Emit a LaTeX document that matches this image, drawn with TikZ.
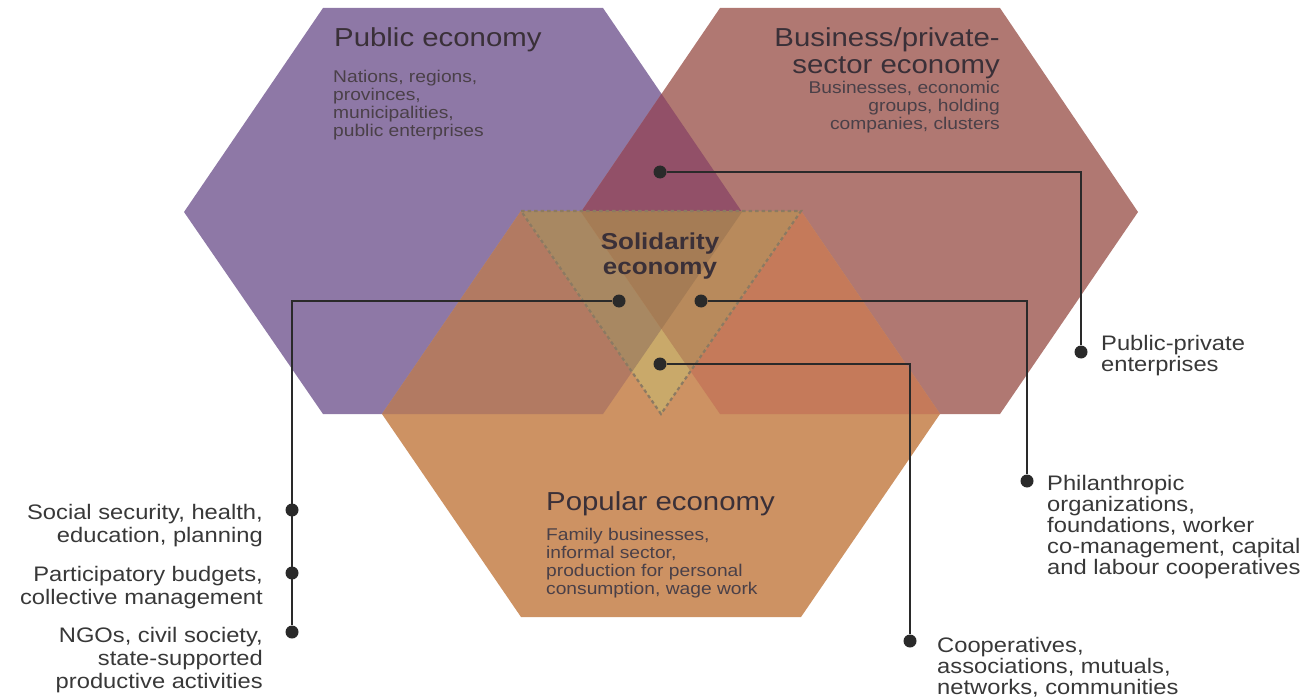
\documentclass[tikz,border=0pt]{standalone}
\usepackage{fontspec}
\setmainfont{Liberation Sans}[FakeStretch=1.13]
\definecolor{pubc}{HTML}{8E78A6}
\definecolor{busc}{HTML}{B07872}
\definecolor{pbc}{HTML}{925068}
\definecolor{popc}{HTML}{CD9263}
\definecolor{poppubc}{HTML}{B27A62}
\definecolor{popbusc}{HTML}{C57A5A}
\definecolor{tripc}{HTML}{C9A96A}
\definecolor{tripubc}{HTML}{A88862}
\definecolor{tribusc}{HTML}{B88A5C}
\definecolor{triallc}{HTML}{A57C55}
\definecolor{dashc}{HTML}{8C7A62}
\definecolor{linec}{HTML}{2A2A2A}
\definecolor{labc}{HTML}{383838}
\definecolor{titc}{HTML}{3A3038}
\definecolor{smallc}{HTML}{4A4048}
\begin{document}
\begin{tikzpicture}[x=1pt,y=-1pt,
  dot/.style={circle,fill=linec,inner sep=0pt,minimum size=13pt},
  conn/.style={draw=linec,line width=1.8pt},
  lab/.style={font=\fontsize{21}{23}\selectfont,text=labc,inner sep=0pt},
  labr/.style={font=\fontsize{21}{21}\selectfont,text=labc,inner sep=0pt,anchor=north west,align=left},
  labl/.style={lab,anchor=north east,align=right},
  title/.style={font=\fontsize{26}{27}\selectfont,text=titc,inner sep=0pt},
  small/.style={font=\fontsize{17}{18}\selectfont,text=smallc,inner sep=0pt}]
\useasboundingbox (0,0) rectangle (1312,698);
\def\pubhex{(184,212) -- (323,8) -- (603,8) -- (742,212) -- (603,414) -- (323,414) -- cycle}
\def\bushex{(581,212) -- (720,8) -- (1000,8) -- (1138,212) -- (1000,414) -- (720,414) -- cycle}
\def\pophex{(382,414) -- (521,211) -- (801,211) -- (940,414) -- (801,617) -- (521,617) -- cycle}
\def\tri{(521,211) -- (801,211) -- (661,414) -- cycle}
% hexagons
\fill[pubc] \pubhex;
\fill[busc] \bushex;
\begin{scope}\clip \pubhex; \fill[pbc] \bushex; \end{scope}
\fill[popc] \pophex;
\begin{scope}\clip \pophex; \fill[poppubc] \pubhex; \end{scope}
\begin{scope}\clip \pophex; \fill[popbusc] \bushex; \end{scope}
% solidarity triangle
\fill[tripc] \tri;
\begin{scope}\clip \tri; \fill[tripubc] \pubhex; \end{scope}
\begin{scope}\clip \tri; \fill[tribusc] \bushex; \end{scope}
\begin{scope}\clip \tri; \clip \pubhex; \fill[triallc] \bushex; \end{scope}
\draw[dashc,line width=2.2pt,dash pattern=on 3.5pt off 3pt] \tri;
% titles
\node[title,anchor=north west] (tpub) at (334,27) {Public economy};
\node[small,anchor=north west,align=left] (spub) at (333,70) {Nations, regions,\\provinces,\\municipalities,\\public enterprises};
\node[title,anchor=north east,align=right] (tbus) at (1000,27) {Business/private-\\sector economy};
\node[small,anchor=north east,align=right] (sbus) at (1000,81) {Businesses, economic\\groups, holding\\companies, clusters};
\node[title,anchor=north west] (tpop) at (546,491) {Popular economy};
\node[small,anchor=north west,align=left] (spop) at (546,528) {Family businesses,\\informal sector,\\production for personal\\consumption, wage work};
\node[font=\bfseries\fontsize{23}{25}\selectfont,text=titc,inner sep=0pt,align=center] (tsol) at (660,256) {Solidarity\\economy};
% dots
\node[dot] (dA) at (660,172) {};
\node[dot] (dB) at (619,301) {};
\node[dot] (dC) at (701,301) {};
\node[dot] (dD) at (660,364) {};
\node[dot] (dPP) at (1081,352) {};
\node[dot] (dSoc) at (292,510) {};
\node[dot] (dPart) at (292,573) {};
\node[dot] (dNGO) at (292,632) {};
\node[dot] (dPhil) at (1027,481) {};
\node[dot] (dCoop) at (910,641) {};
% connectors
\draw[conn] (dA) -| (dPP);
\draw[conn] (dB) -| (dNGO);
\draw[conn] (dC) -| (dPhil);
\draw[conn] (dD) -| (dCoop);
% labels
\node[labl] (lSoc) at (263,504) {Social security, health,\\education, planning};
\node[labl] (lPart) at (263,566) {Participatory budgets,\\collective management};
\node[labl] (lNGO) at (263,627) {NGOs, civil society,\\state-supported\\productive activities};
\node[labr] (lPP) at (1101,335) {Public-private\\enterprises};
\node[labr] (lPhil) at (1047,475) {Philanthropic\\organizations,\\foundations, worker\\co-management, capital\\and labour cooperatives};
\node[labr] (lCoop) at (937,637) {Cooperatives,\\associations, mutuals,\\networks, communities};
\end{tikzpicture}
\end{document}
